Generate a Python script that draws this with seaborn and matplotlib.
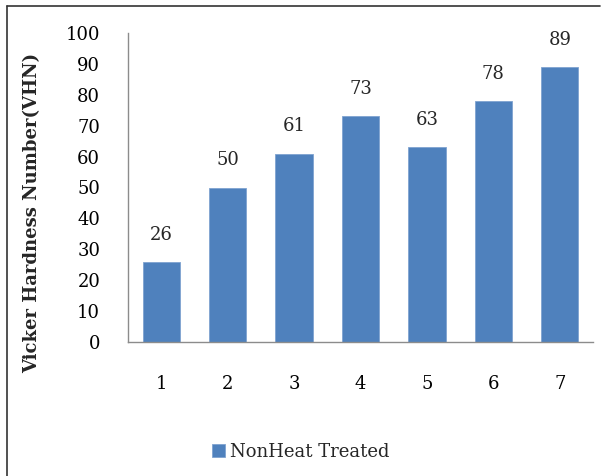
import matplotlib
matplotlib.use("Agg")
import matplotlib.pyplot as plt
from matplotlib.lines import Line2D
import seaborn as sns
import pandas as pd

categories = ["1", "2", "3", "4", "5", "6", "7"]
values = [26, 50, 61, 73, 63, 78, 89]
series_name = "NonHeat Treated"
y_ticks = [0, 10, 20, 30, 40, 50, 60, 70, 80, 90, 100]
y_label = "Vicker Hardness Number(VHN)"

sns.set_theme(style="white")
plt.rcParams["font.family"] = ["DejaVu Serif"]

df = pd.DataFrame({"cat": categories, "val": values, "series": series_name})

fig = plt.figure(figsize=(6.06, 4.76), dpi=100)
ax = fig.add_axes([128/606, 1-342/476, (593-128)/606, (342-33)/476])

sns.barplot(data=df, x="cat", y="val", hue="series", palette=["#4F81BD"],
            saturation=1, width=0.56, ax=ax, edgecolor="#7FA3D0",
            linewidth=0.6, legend=True)

ax.set_ylim(0, 100)
ax.set_yticks(y_ticks)
ax.set_xlim(-0.5, len(categories)-0.5)
ax.set_xlabel("")
ax.set_ylabel(y_label, fontsize=13, fontweight="bold", va="center", ha="center")
ax.yaxis.set_label_coords((32-128)/465, (342-213)/309)
ax.tick_params(axis="y", length=0, pad=20, labelsize=13, colors="#000000")
ax.tick_params(axis="x", length=0, pad=24, labelsize=13, colors="#000000")
for s in ["top", "right"]:
    ax.spines[s].set_visible(False)
for s in ["left", "bottom"]:
    ax.spines[s].set_color("#8C8C8C")
    ax.spines[s].set_linewidth(1.0)

for i, v in enumerate(values):
    ax.annotate(str(v), (i, v), xytext=(0, 13), textcoords="offset points",
                ha="center", va="bottom", fontsize=13)

leg = ax.legend(loc="center left", bbox_to_anchor=(196/606, 1-452/476),
                bbox_transform=fig.transFigure, frameon=False, fontsize=13,
                handlelength=0.7, handleheight=0.7, handletextpad=0.3)

fig.add_artist(Line2D([7/606, 7/606], [0, 1-6/476], transform=fig.transFigure,
                      color="#333333", linewidth=1.2))
fig.add_artist(Line2D([7/606, 600/606], [1-6/476, 1-6/476], transform=fig.transFigure,
                      color="#333333", linewidth=1.2))

fig.savefig("out.png", dpi=100)
